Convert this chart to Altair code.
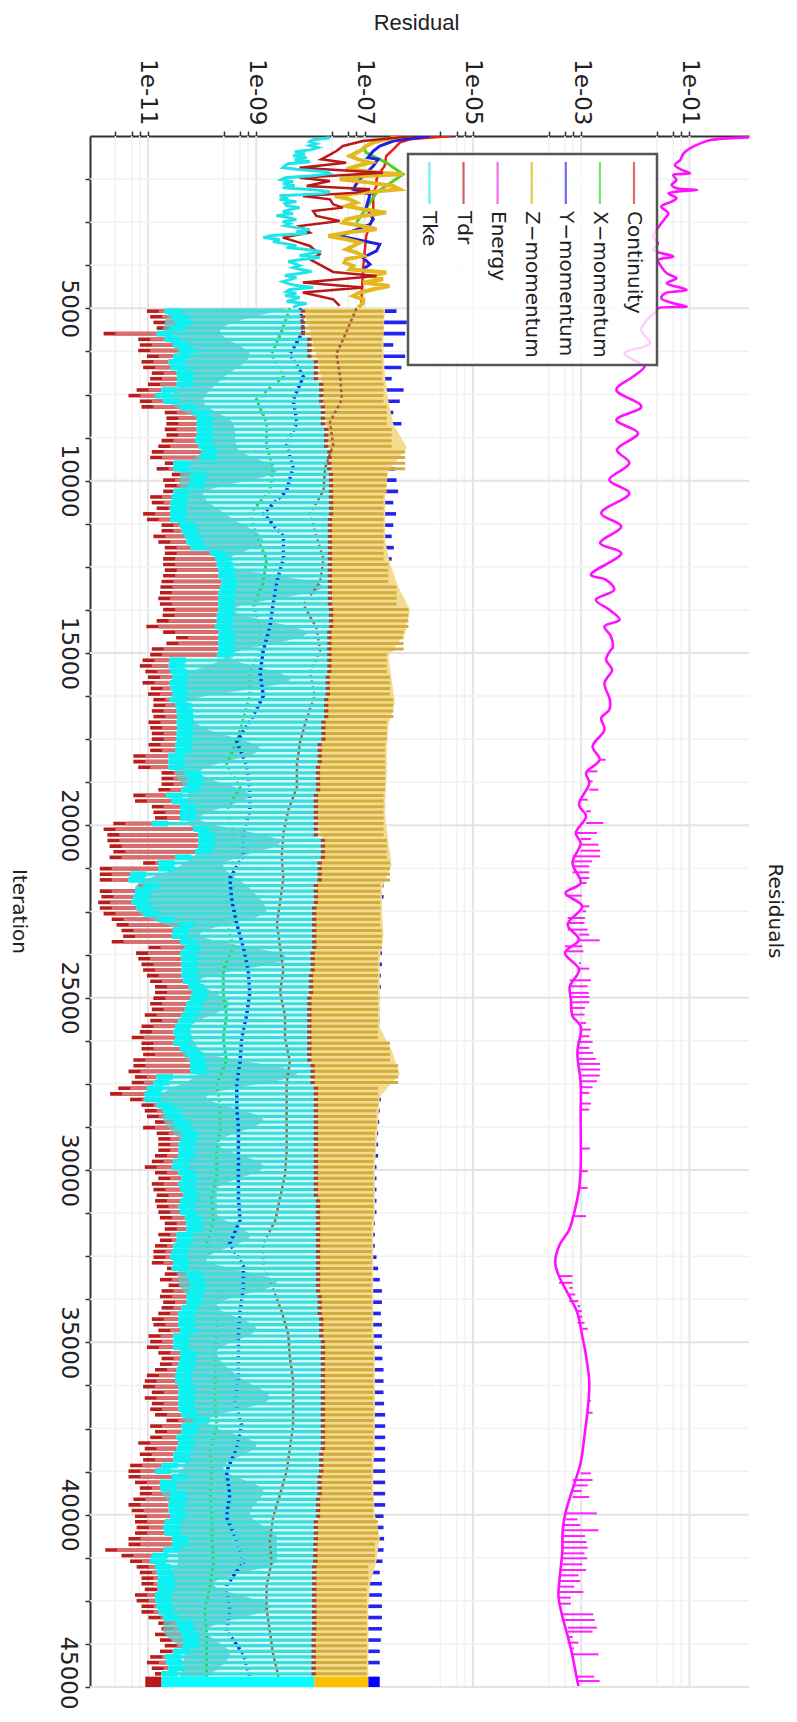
import altair as alt
import pandas as pd

# ---- log10 residuals, one value per oscillation cycle from iteration 5000 on
TDR_LOW = [-11.02,-10.96,-10.90,-10.84,-11.82,-11.18,-11.15,-11.18,-11.02,-11.12,-11.09,-10.93,-10.96,-11.0,-11.21,-11.36,-11.15,-11.12,-10.69,-10.66,-10.66,-10.69,-10.66,-10.75,-10.81,-10.93,-10.96,-10.69,-10.84,-10.56,-10.72,-10.69,-10.72,-10.96,-10.93,-10.84,-11.09,-11.02,-10.75,-10.75,-10.90,-10.81,-10.69,-10.69,-10.72,-10.72,-10.69,-10.72,-10.75,-10.77,-10.78,-10.81,-10.78,-10.72,-10.73,-10.84,-11.03,-10.72,-10.48,-10.66,-10.93,-10.96,
 -11.1,-11.15,-11.05,-11.0,-11.1,-10.95,-11.0,-10.9,
 -10.90,-10.93,-10.90,-10.99,-10.96,-10.93,-10.93,-10.99,-10.96,-11.27,-11.27,-11.18,-10.75,-10.75,-10.75,-10.81,-11.27,-11.24,-10.93,-10.90,-10.87,-11.64,-11.82,-11.75,-11.75,-11.71,-11.64,-11.71,-11.09,-11.89,-11.89,-11.89,-11.18,-11.89,-11.86,-11.92,-11.89,-11.82,-11.67,-11.58,-11.49,-11.46,-11.67,-10.99,-11.22,-11.18,-11.12,-11.09,-11.02,-10.96,-10.87,-10.87,-10.90,
 -10.96,-10.93,-11.06,-10.96,-11.12,-11.15,-11.30,-11.12,-11.12,-11.09,-11.27,-11.27,-11.36,-11.24,-11.30,-11.55,-11.70,-11.33,-11.12,-11.06,-11.02,-10.87,-11.09,-10.84,-10.81,-10.81,-10.81,-10.87,-10.93,-11.06,-10.87,-10.81,-10.93,-10.90,-10.84,-10.87,-10.84,-10.81,-10.78,-10.69,-10.69,-10.81,-10.78,-10.87,-10.90,-10.90,-10.93,-10.65,-10.69,-10.78,-10.62,-10.75,-10.78,-10.72,-10.75,-10.81,-10.93,-10.90,-10.81,-10.99,-10.96,-11.02,
 -10.81,-10.75,-10.78,-10.87,-11.02,-11.06,-11.09,-10.93,-11.06,-10.93,-10.96,-10.87,-10.66,-10.96,-10.87,-10.96,-11.18,-11.06,-11.15,-11.09,-11.33,-11.36,-11.36,-11.24,-11.15,-11.15,-11.27,-11.36,-11.30,-11.24,-11.24,-11.21,-11.24,-11.36,-11.36,-11.79,-11.49,-11.33,-11.21,-11.15,-11.12,-11.12,-11.06,-11.24,-11.21,-11.12,-11.12,-10.99,-10.81,-10.75,-10.87,-10.78,-10.69,-10.78,-10.96,-11.02,-10.93,-10.87]

TKE_LOW = [-10.69,-10.56,-10.50,-10.59,-10.84,-10.69,-10.53,-10.42,-10.53,-10.62,-10.59,-10.47,-10.46,-10.47,-10.75,-10.87,-10.72,-10.41,-10.16,-10.10,-10.10,-10.10,-10.10,-10.13,-10.07,-10.01,-10.04,-10.53,-10.53,-10.22,-10.22,-10.26,-10.53,-10.56,-10.59,-10.59,-10.59,-10.59,-10.41,-10.38,-10.32,-10.29,-10.22,-9.85,-9.76,-9.73,-9.70,-9.70,-9.64,-9.67,-9.70,-9.70,-9.70,-9.70,-9.73,-9.73,-9.76,-9.70,-9.70,-9.70,-9.70,-9.73,
 -10.6,-10.62,-10.58,-10.55,-10.6,-10.58,-10.55,-10.6,
 -10.50,-10.47,-10.46,-10.47,-10.46,-10.47,-10.47,-10.50,-10.50,-10.62,-10.62,-10.62,-10.32,-10.27,-10.27,-10.38,-10.66,-10.56,-10.41,-10.41,-10.41,-10.93,-10.16,-10.07,-10.07,-10.07,-10.13,-10.50,-10.81,-10.81,-11.33,-11.36,-11.09,-11.24,-11.27,-11.30,-11.21,-11.09,-10.81,-10.44,-10.54,-10.56,-10.41,-10.32,-10.41,-10.38,-10.38,-10.38,-10.38,-10.35,-10.26,-10.19,-10.22,
 -10.29,-10.32,-10.38,-10.44,-10.50,-10.53,-10.50,-10.53,-10.41,-10.29,-10.22,-10.22,-10.22,-10.84,-10.90,-11.02,-11.06,-11.06,-10.84,-10.72,-10.66,-10.53,-10.50,-10.38,-10.38,-10.44,-10.44,-10.44,-10.53,-10.56,-10.44,-10.38,-10.44,-10.41,-10.35,-10.41,-10.44,-10.41,-10.32,-10.29,-10.29,-10.47,-10.47,-10.53,-10.56,-10.59,-10.53,-10.56,-10.29,-10.26,-10.22,-10.26,-10.29,-10.29,-10.38,-10.44,-10.44,-10.44,-10.41,-10.53,-10.53,-10.53,
 -10.41,-10.41,-10.44,-10.47,-10.50,-10.50,-10.44,-10.44,-10.44,-10.44,-10.44,-10.38,-10.16,-10.38,-10.38,-10.47,-10.44,-10.47,-10.53,-10.53,-10.75,-10.87,-10.56,-10.78,-10.78,-10.59,-10.59,-10.62,-10.62,-10.59,-10.69,-10.72,-10.69,-10.56,-10.56,-10.72,-10.93,-10.96,-10.87,-10.84,-10.81,-10.81,-10.81,-10.87,-10.87,-10.84,-10.81,-10.72,-10.47,-10.44,-10.38,-10.35,-10.35,-10.53,-10.69,-10.66,-10.62,-10.75]

# ---- coarser samples
SOLID_HI = [-8.38,-9.67,-9.12,-9.61,-9.98,-9.42,-9.36,-8.62,-9.98,-9.49,-8.87,-9.61,-7.76,-9.42,-8.07,
 -9.49,-8.38,
 -10.29,-10.04,-8.93,-10.04,-9.12,-10.04,-8.56,-9.61,-9.12,-8.81,-10.04,-8.44,-10.04,
 -9.49,-10.22,-10.04,-8.25,-9.92,-8.87,-9.73,-8.87,-9.73,-9.73,-9.12,-9.92,-8.62,-9.73,-9.0,
 -9.73,-9.36,-8.75,-9.92,-9.0,-9.61,-8.87,-9.12,-8.62,-8.62,-9.79,-8.75,-9.92,-9.49,-9.92]

GOLD_LOW = [-8.13,-8.01,-7.89,-7.79,-7.76,-7.70,-7.64,-7.61,-7.61,-7.63,-7.63,-7.63,-7.63,-7.61,-7.64,-7.64,-7.67,
 -7.70,-7.75,-7.82,-7.85,-7.89,-7.89,-7.76,-7.82,-7.89,-7.92,-7.92,-7.95,-7.98,
 -8.01,-8.01,-8.01,-7.95,-7.89,-7.89,-7.89,-7.89,-7.89,-7.85,-7.85,-7.85,-7.85,-7.82,-7.79,
 -7.76,-7.76,-7.76,-7.76,-7.76,-7.79,-7.82,-7.85,-7.89,-7.90,-7.92,-7.92,-7.92,-7.93,-7.93]

GOLD_HI = [-6.62,-6.65,-6.65,-6.62,-6.56,-6.47,-6.22,-6.56,-6.62,-6.62,-6.62,-6.53,-6.38,-6.16,-6.25,-6.56,-6.50,
 -6.44,-6.56,-6.59,-6.59,-6.62,-6.62,-6.56,-6.50,-6.68,-6.68,-6.65,-6.72,-6.72,
 -6.72,-6.72,-6.50,-6.35,-6.72,-6.75,-6.78,-6.81,-6.81,-6.81,-6.84,-6.84,-6.84,-6.84,-6.84,
 -6.81,-6.81,-6.81,-6.81,-6.81,-6.84,-6.84,-6.81,-6.72,-6.78,-6.90,-6.93,-6.93,-6.93,-6.93]

BLUE_HI = [-6.41,-6.22,-6.25,-6.47,-6.25,-6.32,-6.50,-6.28,-6.35,-6.47,-6.32,-6.7,-6.7,-6.7,-6.44,-6.41,-6.38,-6.47,-6.42,-6.47,-6.50,-6.46,-6.50,-6.7,-6.7,-6.7,-6.7,-6.7,-6.7,-6.47,-6.47,
 -6.6,-6.6,-6.6,-6.6,
 -6.6,-6.62,-6.62,-6.62,-6.62,-6.62,-6.65,-6.65,-6.62,-6.62,-6.62,-6.62,-6.62,-6.62,-6.65,-6.65,-6.65,-6.65,-6.68,-6.68,-6.68,-6.68,-6.68,-6.68,-6.7,-6.7,
 -6.72,-6.72,-6.72,-6.8,-6.8,-6.8,-6.8,-6.8,-6.67,-6.70,-6.72,-6.73,-6.75,-6.75,-6.75,-6.78,-6.78,-6.78,-6.78,-6.78,-6.81,-6.81,-6.81,-6.78,-6.75,-6.72,-6.68,-6.68,-6.70,-6.68,-6.68,
 -6.68,-6.67,-6.65,-6.65,-6.65,-6.64,-6.62,-6.62,-6.62,-6.62,-6.62,-6.62,-6.62,-6.62,-6.62,-6.65,-6.65,-6.64,-6.65,-6.67,-6.72,-6.68,-6.68,-6.68,-6.68,-6.68,-6.70,-6.72,-6.72]

TDR_MID = [-7.15,-7.33,-7.52,-7.45,-7.42,-7.64,-7.58,-7.73,-7.76,-8.01,-7.89,-7.76,-7.82,-8.13,-7.89,-7.82,-8.01,
 -7.92,-8.07,-8.19,-8.25,-8.25,-8.41,-8.50,-8.53,-8.50,-8.56,-8.62,-8.56,-8.50,
 -8.56,-8.47,-8.47,-8.38,-8.44,-8.44,-8.44,-8.44,-8.47,-8.56,-8.65,-8.87,-8.87,-8.69,-8.53,-8.41,
 -8.38,-8.32,-8.32,-8.32,-8.38,-8.44,-8.56,-8.69,-8.75,-8.72,-8.81,-8.81,-8.75,-8.69,-8.59]

GREEN_MID = [-8.38,-8.53,-8.72,-8.50,-9.0,-8.81,-8.81,-8.69,-8.75,-9.12,-9.0,-8.81,-8.87,-9.05,-8.93,-8.93,-9.12,
 -9.12,-9.24,-9.36,-9.55,-9.30,-9.55,-9.42,-9.45,-9.42,-9.55,-9.55,-9.42,-9.61,
 -9.61,-9.55,-9.61,-9.55,-9.73,-9.67,-9.67,-9.73,-9.73,-9.82,-9.79,-9.92,-9.76,-9.73,-9.73,-9.73,
 -9.76,-9.76,-9.76,-9.73,-9.85,-9.82,-9.85,-9.82,-9.82,-9.79,-9.85,-9.95,-9.92,-9.92,-9.92]

BLUE_MID = [-8.19,-8.13,-8.38,-8.13,-8.32,-8.25,-8.44,-8.32,-8.44,-8.87,-8.50,-8.50,-8.62,-8.69,-8.75,-8.87,-8.93,
 -8.87,-9.09,-9.36,-9.18,-9.12,-9.12,-9.24,-9.24,-9.49,-9.45,-9.36,-9.24,-9.15,
 -9.12,-9.18,-9.27,-9.30,-9.36,-9.36,-9.33,-9.33,-9.33,-9.33,-9.30,-9.49,-9.24,-9.24,-9.30,-9.33,
 -9.33,-9.33,-9.39,-9.27,-9.36,-9.55,-9.49,-9.55,-9.36,-9.24,-9.55,-9.49,-9.55,-9.24,-9.12]

# ---- start-up phase, iterations 0-5000
TKE_E = [-7.64,-7.95,-8.01,-7.89,-8.01,-7.86,-7.98,-8.29,-8.10,-8.32,-8.07,-8.29,-8.01,-8.41,-8.47,-8.51,-8.17,-7.70,-7.64,-7.95,-8.47,-8.54,-8.32,-8.51,-8.29,-8.51,-7.95,-7.64,-7.77,-8.57,-8.41,-8.57,-8.26,-8.47,-8.44,-8.20,-8.38,-8.51,-8.32,-8.63,-8.41,-8.26,-8.51,-8.38,-8.47,-8.26,-8.01,-8.26,-8.07,-8.72,-8.87,-8.57,-8.69,-8.47,-8.26,-8.44,-8.07,-7.80,-8.01,-8.20,-7.83,-8.17,-8.41,-8.29,-8.20,-8.32,-8.17,-7.98,-8.20,-8.47,-8.26,-8.38,-8.51,-8.41,-8.26,-7.95,-8.38,-8.44,-8.26,-8.47,-8.20,-8.32,-8.44,-8.07,-8.26,-8.32]
TKE_IT = [48 + 58 * k for k in range(len(TKE_E))]
TDR_IT = [0,145,290,435,628,677,773,918,1063,1208,1305,1450,1547,1643,1740,1837,1982,2078,2175,2320,2465,2610,2803,2948,3093,3190,3432,3577,3944,4060,4253,4398,4543,4737,4930]
TDR_E = [-6.10,-7.03,-7.40,-7.52,-7.74,-7.80,-7.34,-8.20,-6.66,-8.20,-7.64,-8.07,-6.90,-7.15,-8.14,-7.64,-7.58,-7.40,-7.95,-7.89,-7.46,-8.20,-8.01,-8.51,-8.20,-8.01,-7.83,-8.01,-7.58,-6.78,-8.14,-7.03,-8.14,-7.58,-7.46]
GOLD_IT = [0,97,193,290,387,483,580,677,773,870,967,1063,1112,1160,1257,1353,1450,1547,1643,1740,1837,1933,2030,2127,2223,2320,2417,2513,2610,2707,2803,2900,2997,3093,3190,3287,3383,3480,3577,3673,3770,3867,3963,4060,4157,4253,4350,4447,4543,4640,4737,4833,4930,4978]
GOLD_E = [-6.29,-6.60,-6.84,-6.97,-7.03,-7.15,-7.27,-7.12,-6.90,-7.15,-7.34,-6.72,-6.29,-7.03,-7.46,-6.90,-6.47,-6.35,-7.03,-7.55,-7.27,-7.15,-7.34,-7.03,-6.60,-7.03,-7.34,-7.40,-7.03,-6.78,-7.34,-7.67,-7.34,-7.09,-7.21,-7.34,-7.15,-7.03,-7.34,-7.37,-7.21,-7.27,-6.60,-6.90,-6.66,-7.03,-6.54,-6.84,-7.09,-7.21,-7.03,-7.03,-7.09,-7.06]
BLUE_IT = [0,145,290,435,628,677,870,1305,1547,1692,2078,2417,2562,2900,3142,3335,3528,3722,3867]
BLUE_E = [-5.80,-6.47,-6.72,-6.84,-6.94,-6.75,-6.84,-7.12,-7.21,-6.90,-6.97,-6.84,-6.90,-7.46,-6.72,-6.78,-7.03,-6.90,-7.03]
GREEN_IT = [290,483,773,1112,1643,2513]
GREEN_E = [-7.03,-6.97,-6.60,-6.29,-6.78,-7.15]
RED_IT = [0,97,193,387,580,870,1063,1257,1450,1643,2320,2900,3867,4833]
RED_E = [-5.40,-6.17,-6.35,-6.47,-6.60,-6.63,-6.72,-6.78,-6.78,-6.84,-6.84,-6.97,-7.03,-7.06]

# ---- energy residual
MAG_IT = [39,68,116,213,358,503,696,841,986,1083,1131,1276,1421,1518,1566,1614,1663,1808,1904,2049,2243,2388,2533,2726,2919,3113,3306,3499,3596,3789,3983,4128,4273,4466,4563,4708,4853,4950,4998,5095,5240,5626,6013,6303,6593,6690,6980,7366,7850,8236,8623,9106,9493,9976,10363,10943,11330,11813,12103,12731,12877,13167,13457,13747,14037,14230,14520,14858,
 14906,15196,15486,15873,16356,16646,16888,17226,17709,18096,18483,18773,19401,19740,20223,20513,21093,21673,21963,22350,22881,23316,23703,24186,24670,25056,25540,25830,26603,27473,28440,29938,
 30566,31243,31726,32209,32693,33079,33660,34143,34820,35400,36173,36946,37720,38493,39266,39943,40426,41103,41876,42360,42940,43520,44100,44680,44970]
MAG_E = [0.10,-0.30,-0.61,-0.80,-0.99,-1.11,-1.17,-1.27,-1.14,-0.99,-1.30,-1.24,-1.33,-1.24,-0.86,-1.24,-1.39,-1.24,-1.33,-1.52,-1.39,-1.45,-1.52,-1.61,-1.67,-1.58,-1.67,-1.30,-1.58,-1.52,-1.42,-1.24,-1.42,-1.05,-1.45,-1.52,-1.30,-1.05,-1.58,-1.61,-1.73,-1.89,-1.73,-2.20,-1.92,-1.83,-2.04,-2.35,-1.89,-2.35,-1.95,-2.34,-2.11,-2.48,-2.11,-2.63,-2.26,-2.65,-2.26,-2.82,-2.54,-2.39,-2.73,-2.48,-2.29,-2.57,-2.45,-2.42,
 -2.45,-2.54,-2.43,-2.57,-2.47,-2.48,-2.63,-2.57,-2.79,-2.66,-2.91,-2.85,-3.04,-2.91,-3.10,-3.01,-3.16,-3.01,-3.29,-2.98,-3.25,-3.04,-3.30,-3.04,-3.21,-3.19,-3.16,-3.01,-3.07,-3.01,-3.01,-3.01,
 -3.04,-3.13,-3.22,-3.41,-3.48,-3.41,-3.22,-3.07,-2.98,-2.91,-2.85,-2.88,-2.94,-3.01,-3.16,-3.29,-3.34,-3.35,-3.40,-3.42,-3.35,-3.25,-3.16,-3.09,-3.05]
SPIKE_IT = [18096,18434,18724,18966,19256,19594,19933,20223,20397,20561,20735,20900,21045,21190,21364,21528,21673,22040,22350,22495,22688,22833,23026,23171,23336,23510,23655,23993,24157,24496,24670,24863,24979,25134,25298,25491,25733,25926,26120,26284,26458,26603,26777,26922,27086,27260,27425,27599,27763,28073,28247,29377,
 30034,30518,31339,33079,33273,33418,33611,33804,33950,34094,34259,34433,34607,36705,37043,38802,38996,39150,39315,39489,39962,40136,40300,40455,40620,40794,40958,41122,41267,41441,41606,41760,41925,42089,42244,42408,42582,42891,43056,43278,43394,43549,43713,43878,44052,44699,44825]
SPIKE_E = [-2.55,-2.70,-2.79,-2.68,-2.88,-2.82,-2.59,-2.71,-2.82,-2.68,-2.65,-2.65,-2.80,-2.85,-2.85,-2.85,-2.90,-2.99,-2.85,-2.91,-2.93,-2.94,-2.88,-2.85,-2.66,-2.98,-2.96,-3.01,-2.85,-2.82,-2.88,-2.86,-2.85,-2.85,-2.93,-2.94,-2.91,-2.82,-2.85,-2.79,-2.85,-2.78,-2.73,-2.65,-2.65,-2.66,-2.71,-2.79,-2.85,-2.82,-2.85,-2.84,
 -2.88,-2.88,-2.91,-3.16,-3.16,-3.16,-3.11,-3.05,-3.02,-2.99,-2.98,-2.94,-2.88,-2.82,-2.79,-2.82,-2.79,-2.88,-2.99,-2.85,-2.71,-3.07,-3.02,-2.68,-2.93,-2.90,-2.88,-2.94,-2.89,-2.98,-2.91,-3.05,-3.02,-3.13,-2.96,-3.19,-3.19,-2.78,-2.75,-2.71,-2.79,-3.16,-3.05,-3.13,-2.68,-2.76,-2.66]

# ---- last stored block
BLOCK_IT = [44700, 45000]
BLOCK_TKE = [-10.75, -7.93]
BLOCK_GOLD = [-7.93, -6.93]
BLOCK_BLUE = [-6.93, -6.72]
BLOCK_TDR = [-11.05, -10.75]

LEGEND_NAMES = ["Continuity", "X\u2212momentum", "Y\u2212momentum", "Z\u2212momentum", "Energy", "Tdr", "Tke"]
LEGEND_COLORS = ["#e46a6a", "#6ce86c", "#6c6cee", "#ecc850", "#f070f0", "#c86464", "#70f0f0"]

MAJOR_RES = [1e-11, 1e-9, 1e-7, 1e-5, 1e-3, 1e-1]
MINOR_FACTORS = [0.7, 0.5, 0.25]
MAJOR_IT = [5000, 10000, 15000, 20000, 25000, 30000, 35000, 40000, 45000]
MINOR_IT = [1250, 2500, 3750, 6250, 7500, 8750, 11250, 12500, 13750, 16250, 17500, 18750, 21250, 22500, 23750,
            26250, 27500, 28750, 31250, 32500, 33750, 36250, 37500, 38750, 41250, 42500, 43750]

P = lambda e: 10.0 ** e
N = len(TDR_LOW)
CYCLE = 39700 / N
ITER = [5000 + CYCLE * (i + 0.5) for i in range(N)]


def hold(vals, i):
    return vals[min(len(vals) - 1, i * len(vals) // N)]


def sampled(vals):
    return [5000 + 39700 * k / (len(vals) - 1) for k in range(len(vals))]


xscale = alt.Scale(type="log", base=10, domain=[10 ** -12.071, 10 ** 0.099], nice=False)
yscale = alt.Scale(domain=[0, 45000], reverse=True, nice=False, zero=False)

res_vals = sorted(MAJOR_RES + [m * f for m in MAJOR_RES for f in MINOR_FACTORS])
x_axis = alt.Axis(
    orient="top", values=res_vals, grid=False, tickSize=5, tickWidth=1.5, tickColor="#333",
    domainColor="#333", domainWidth=2,
    labelExpr="(abs(log(datum.value)/LN10-round(log(datum.value)/LN10))<0.01) ? '1e-'+(round(-log(datum.value)/LN10)<10?'0':'')+round(-log(datum.value)/LN10) : ''",
    labelAngle=90, labelAlign="right", labelBaseline="middle", labelPadding=6, labelOverlap=False,
    labelFont="DejaVu Sans", labelFontSize=23, labelColor="#222",
    title="Residual", titleAngle=0, titleX=326, titleY=-114, titleFont="Liberation Sans", titleFontSize=22,
    titleFontWeight="normal", titleColor="#222", titleAlign="center", titleBaseline="middle")
y_axis = alt.Axis(
    orient="left", values=sorted(MAJOR_IT + MINOR_IT), grid=False, tickSize=5, tickWidth=1.5, tickColor="#333",
    domainColor="#333", domainWidth=2,
    labelExpr="datum.value % 5000 == 0 && datum.value < 45000 ? datum.value : ''",
    labelAngle=90, labelAlign="center", labelBaseline="middle", labelPadding=17, labelOverlap=False,
    labelFont="DejaVu Sans", labelFontSize=23, labelColor="#222",
    title="Iteration", titleAngle=90, titleX=-72, titleY=775, titleFont="DejaVu Sans", titleFontSize=20,
    titleFontWeight="normal", titleColor="#222", titleAlign="center", titleBaseline="middle")


def X(f="x"):
    return alt.X(f, type="quantitative", scale=xscale, axis=x_axis)


def Y(f="y"):
    return alt.Y(f, type="quantitative", scale=yscale, axis=y_axis)


def rules(lo, hi, its, color, width, opacity=1.0):
    d = pd.DataFrame({"x": lo, "x2": hi, "y": its})
    return alt.Chart(d).mark_rule(color=color, strokeWidth=width, opacity=opacity).encode(
        x=X(), x2=alt.X2("x2"), y=Y())


def line(its, es, color, width, dash=None, opacity=1.0, interp="linear"):
    d = pd.DataFrame({"x": [P(e) for e in es], "y": its})
    kw = {"strokeDash": dash} if dash else {}
    return alt.Chart(d).mark_line(color=color, strokeWidth=width, opacity=opacity, clip=True,
                                  interpolate=interp, **kw).encode(
        x=X(), y=Y(), order=alt.Order("y", type="quantitative"))


# grid
g_minor_x = alt.Chart(pd.DataFrame({"x": [m * f for m in MAJOR_RES for f in MINOR_FACTORS]})).mark_rule(
    color="#f1f1f1", strokeWidth=1.5).encode(x=X())
g_major_x = alt.Chart(pd.DataFrame({"x": MAJOR_RES})).mark_rule(color="#e4e4e4", strokeWidth=2).encode(x=X())
g_minor_y = alt.Chart(pd.DataFrame({"y": MINOR_IT})).mark_rule(color="#f1f1f1", strokeWidth=1.5).encode(y=Y())
g_major_y = alt.Chart(pd.DataFrame({"y": MAJOR_IT})).mark_rule(color="#e4e4e4", strokeWidth=2).encode(y=Y())

tdr_lo = [P(v) for v in TDR_LOW]
tke_lo = [P(v) for v in TKE_LOW]
gold_lo = [P(hold(GOLD_LOW, i)) for i in range(N)]
gold_hi = [P(hold(GOLD_HI, i) - 0.03) for i in range(N)]
bright_hi = [P(TKE_LOW[i] + 0.3) for i in range(N)]
tdr_inner = [P(min(TDR_LOW[i] + 0.22, TKE_LOW[i])) for i in range(N)]
tip_lo = [P(hold(GOLD_LOW, i) - 0.05) for i in range(N)]
tip_hi = [P(hold(GOLD_LOW, i) + 0.03) for i in range(N)]

BI = ITER[::2]
blue_hi = [P(v) for v in BLUE_HI[:len(BI)]]
BI = BI[:len(blue_hi)]

gold_area = alt.Chart(pd.DataFrame({
    "x": [P(v) for v in GOLD_LOW], "x2": [P(v) for v in GOLD_HI], "y": sampled(GOLD_LOW)
})).mark_area(color="#f3dc8e", orient="horizontal").encode(x=X(), x2=alt.X2("x2"), y=Y())

# solid teal band: from the local floor of the Tke curve up to where the cycles separate
teal_lo = [TKE_LOW[min(N - 1, k * N // len(SOLID_HI))] + 0.12 for k in range(len(SOLID_HI))]
teal_area = alt.Chart(pd.DataFrame({
    "x": [P(v) for v in teal_lo],
    "x2": [P(max(h, l)) for h, l in zip(SOLID_HI, teal_lo)],
    "y": sampled(SOLID_HI)
})).mark_area(color="#68c4c4", orient="horizontal", interpolate="monotone", opacity=0.8).encode(
    x=X(), x2=alt.X2("x2"), y=Y())

# magenta spikes start from the nearest stored base point
spike_base = [P(MAG_E[min(range(len(MAG_IT)), key=lambda j: abs(MAG_IT[j] - it))]) for it in SPIKE_IT]


def block(vals, color):
    d = pd.DataFrame({"x": [P(vals[0])], "x2": [P(vals[1])], "y": [BLOCK_IT[0]], "y2": [BLOCK_IT[1]]})
    return alt.Chart(d).mark_rect(color=color).encode(x=X(), x2=alt.X2("x2"), y=Y(), y2=alt.Y2("y2"))


layers = [
    g_minor_x, g_major_x, g_minor_y, g_major_y,
    # start-up phase
    line(RED_IT, RED_E, "#e8201c", 2.5),
    line(GREEN_IT, GREEN_E, "#50d020", 3),
    line(BLUE_IT, BLUE_E, "#2020e0", 3),
    line(GOLD_IT, GOLD_E, "#e4b820", 4),
    line(TDR_IT, TDR_E, "#b81818", 2.5),
    line(TKE_IT, TKE_E, "#20e4e8", 3),
    # oscillating phase
    rules([P(-7.0)] * len(BI), blue_hi, BI, "#2424ee", 3.6),
    rules(tdr_lo, tke_lo, ITER, "#bb1c1c", 3.6),
    rules(tdr_inner, tke_lo, ITER, "#d86e6e", 3.8),
    rules(tke_lo, gold_lo, ITER, "#cdf9f9", 5.7),
    teal_area,
    line(sampled(GREEN_MID), GREEN_MID, "#30d050", 3, [3, 2.7]),
    line(sampled(BLUE_MID), BLUE_MID, "#0838e0", 3.5, [3, 2.7]),
    gold_area,
    rules(gold_lo, gold_hi, ITER, "#d3ac40", 3),
    line(sampled(TDR_MID), TDR_MID, "#a85a3c", 2.5, [3, 2.7]),
    rules(tke_lo, gold_lo, ITER, "#3cdcdc", 3.2),
    rules(tke_lo, bright_hi, ITER, "#0cf2f2", 5.7),
    rules(tip_lo, tip_hi, ITER, "#b03a28", 3),
    # energy
    rules(spike_base, [P(v) for v in SPIKE_E], SPIKE_IT, "#ff20ff", 2),
    line(MAG_IT, MAG_E, "#ff10ff", 2.6, interp="catmull-rom"),
    # last block
    block(BLOCK_TDR, "#b81818"),
    block(BLOCK_TKE, "#00ffff"),
    block(BLOCK_GOLD, "#ffc000"),
    block(BLOCK_BLUE, "#0000ff"),
]

# legend box, side title and the last tick label, placed in plot-area pixels
one = pd.DataFrame({"a": [0]})
layers.append(alt.Chart(one).mark_rect(fill="white", fillOpacity=0.8, stroke="#555", strokeWidth=2.5).encode(
    x=alt.value(318), x2=alt.value(567), y=alt.value(18), y2=alt.value(229)))
for k, (name, col) in enumerate(zip(LEGEND_NAMES, LEGEND_COLORS)):
    px = 544 - 34.1 * k
    layers.append(alt.Chart(one).mark_rule(color=col, strokeWidth=2.2).encode(
        x=alt.value(px), y=alt.value(26), y2=alt.value(68)))
    layers.append(alt.Chart(one).mark_text(
        text=name, angle=90, align="left", baseline="middle", font="DejaVu Sans", fontSize=20, color="#222"
    ).encode(x=alt.value(px), y=alt.value(75)))
layers.append(alt.Chart(one).mark_text(
    text="Residuals", angle=90, align="center", baseline="middle", font="DejaVu Sans", fontSize=20, color="#222"
).encode(x=alt.value(685), y=alt.value(775)))
layers.append(alt.Chart(one).mark_text(
    text="45000", angle=90, align="center", baseline="middle", font="DejaVu Sans", fontSize=23, color="#222"
).encode(x=alt.value(-22), y=alt.value(1537)))

chart = alt.layer(*layers).properties(
    width=659, height=1551,
    autosize=alt.AutoSizeParams(type="none"),
    padding={"left": 82, "top": 128, "right": 40, "bottom": 27},
).configure_view(stroke=None)

chart.save("out.html", embed_options={"renderer": "svg", "actions": False})
